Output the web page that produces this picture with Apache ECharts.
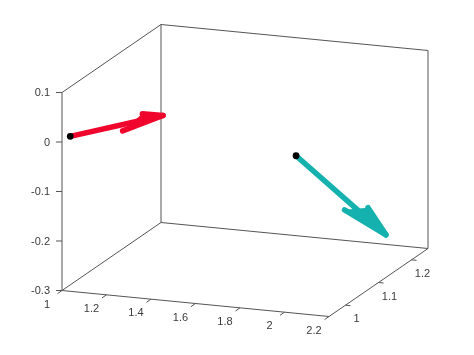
<!DOCTYPE html>
<html>
<head>
<meta charset="utf-8">
<script src="https://cdn.jsdelivr.net/npm/echarts@6/dist/echarts.min.js"></script>
<style>html,body{margin:0;padding:0;background:#fff}#c{width:474px;height:355px}</style>
</head>
<body>
<div id="c"></div>
<script>
// ---- data (3D axes) ----
const xRange = [1, 2.2];
const yRange = [0.95, 1.25];
const zRange = [-0.3, 0.1];
const xTicks = [1, 1.2, 1.4, 1.6, 1.8, 2, 2.2];
const yTicks = [1, 1.1, 1.2];
const zTicks = [-0.3, -0.2, -0.1, 0, 0.1];
// quiver3 arrows: start points and vectors
const startX = [1, 2];
const startY = [0.975, 0.985];
const startZ = [0, 0];
const vecU = [0.294, -0.069];
const vecV = [0.083, 0.319];
const vecW = [0.017, -0.309];
const arrowColors = ['#F0052D', '#14B1AF'];

// ---- view / layout (orthographic projection of the plot box) ----
const W = 474, H = 355;
const BOX = { o: [62, 290.5], ex: [267, 26], ey: [99, -68], ez: [0, -198] };
const ALPHA = 0.33, BETA = 0.38;
const AX_COLOR = '#555555', TXT_COLOR = '#3a3a3a';
const FONT = '11px "Liberation Sans", Arial, sans-serif';

function norm(v, r) { return (v - r[0]) / (r[1] - r[0]); }
function proj(x, y, z) {
  const a = norm(x, xRange), b = norm(y, yRange), c = norm(z, zRange);
  return [BOX.o[0] + a * BOX.ex[0] + b * BOX.ey[0] + c * BOX.ez[0],
          BOX.o[1] + a * BOX.ex[1] + b * BOX.ey[1] + c * BOX.ez[1]];
}

const chart = echarts.init(document.getElementById('c'));

function boxRender(params, api) {
  const [x0, x1] = xRange, [y0, y1] = yRange, [z0, z1] = zRange;
  const edges = [
    [[x0, y0, z0], [x0, y0, z1]],
    [[x0, y0, z1], [x0, y1, z1]],
    [[x0, y1, z0], [x0, y1, z1]],
    [[x0, y0, z0], [x0, y1, z0]],
    [[x0, y1, z1], [x1, y1, z1]],
    [[x1, y1, z0], [x1, y1, z1]],
    [[x0, y1, z0], [x1, y1, z0]],
    [[x0, y0, z0], [x1, y0, z0]],
    [[x1, y0, z0], [x1, y1, z0]]
  ];
  return {
    type: 'group',
    children: edges.map(e => {
      const p = api.coord(proj(...e[0])), q = api.coord(proj(...e[1]));
      return { type: 'line', shape: { x1: p[0], y1: p[1], x2: q[0], y2: q[1] },
               style: { stroke: AX_COLOR, lineWidth: 1 } };
    })
  };
}

function tickRender(axis) {
  return function (params, api) {
    const v = api.value(2);
    let p, tickEnd, lab, align, va;
    if (axis === 'x') {
      p = api.coord(proj(v, yRange[0], zRange[0]));
      tickEnd = [p[0] - 4.5, p[1] + 3.1];
      lab = [p[0] - 15, p[1] + 14]; align = 'center'; va = 'middle';
    } else if (axis === 'y') {
      p = api.coord(proj(xRange[1], v, zRange[0]));
      tickEnd = [p[0] + 5, p[1] + 0.5];
      lab = [p[0] + 11, p[1] + 14]; align = 'center'; va = 'middle';
    } else {
      p = api.coord(proj(xRange[0], yRange[0], v));
      tickEnd = [p[0] - 6, p[1]];
      lab = [p[0] - 12, p[1] + 0.5]; align = 'right'; va = 'middle';
    }
    return {
      type: 'group',
      children: [
        { type: 'line', shape: { x1: p[0], y1: p[1], x2: tickEnd[0], y2: tickEnd[1] },
          style: { stroke: AX_COLOR, lineWidth: 1 } },
        { type: 'text', style: { text: String(v), x: lab[0], y: lab[1], align: align,
          verticalAlign: va, fill: TXT_COLOR, font: FONT } }
      ]
    };
  };
}

function arrowRender(params, api) {
  const i = api.value(8);
  const x = api.value(2), y = api.value(3), z = api.value(4);
  const u = api.value(5), v = api.value(6), w = api.value(7);
  const P = (a, b, c) => api.coord(proj(a, b, c));
  const s = P(x, y, z), t = P(x + u, y + v, z + w);
  const b1 = P(x + u - ALPHA * (u + BETA * v), y + v - ALPHA * (v - BETA * u), z + w - ALPHA * w);
  const b2 = P(x + u - ALPHA * (u - BETA * v), y + v - ALPHA * (v + BETA * u), z + w - ALPHA * w);
  const col = arrowColors[i];
  return {
    type: 'group',
    children: [
      { type: 'line', shape: { x1: s[0], y1: s[1], x2: t[0], y2: t[1] },
        style: { stroke: col, lineWidth: 5.5, lineCap: 'round' } },
      { type: 'polygon', shape: { points: [b1, t, b2] }, style: { fill: col } },
      { type: 'polyline', shape: { points: [b1, t, b2] },
        style: { stroke: col, lineWidth: 5.5, lineJoin: 'round', lineCap: 'round', fill: null } },
      { type: 'circle', shape: { cx: s[0], cy: s[1], r: 3.4 }, style: { fill: '#000' } }
    ]
  };
}

const arrowData = startX.map((sx, i) => [0, 0, sx, startY[i], startZ[i], vecU[i], vecV[i], vecW[i], i]);

chart.setOption({
  animation: false,
  backgroundColor: '#fff',
  grid: { left: 0, right: 0, top: 0, bottom: 0 },
  xAxis: { type: 'value', min: 0, max: W, show: false },
  yAxis: { type: 'value', min: 0, max: H, inverse: true, show: false },
  series: [
    { type: 'custom', renderItem: boxRender, data: [[0, 0]], clip: false, silent: true },
    { type: 'custom', renderItem: tickRender('x'), data: xTicks.map(v => [0, 0, v]), clip: false, silent: true },
    { type: 'custom', renderItem: tickRender('y'), data: yTicks.map(v => [0, 0, v]), clip: false, silent: true },
    { type: 'custom', renderItem: tickRender('z'), data: zTicks.map(v => [0, 0, v]), clip: false, silent: true },
    { type: 'custom', renderItem: arrowRender, data: arrowData, clip: false, silent: true }
  ]
});
</script>
</body>
</html>
